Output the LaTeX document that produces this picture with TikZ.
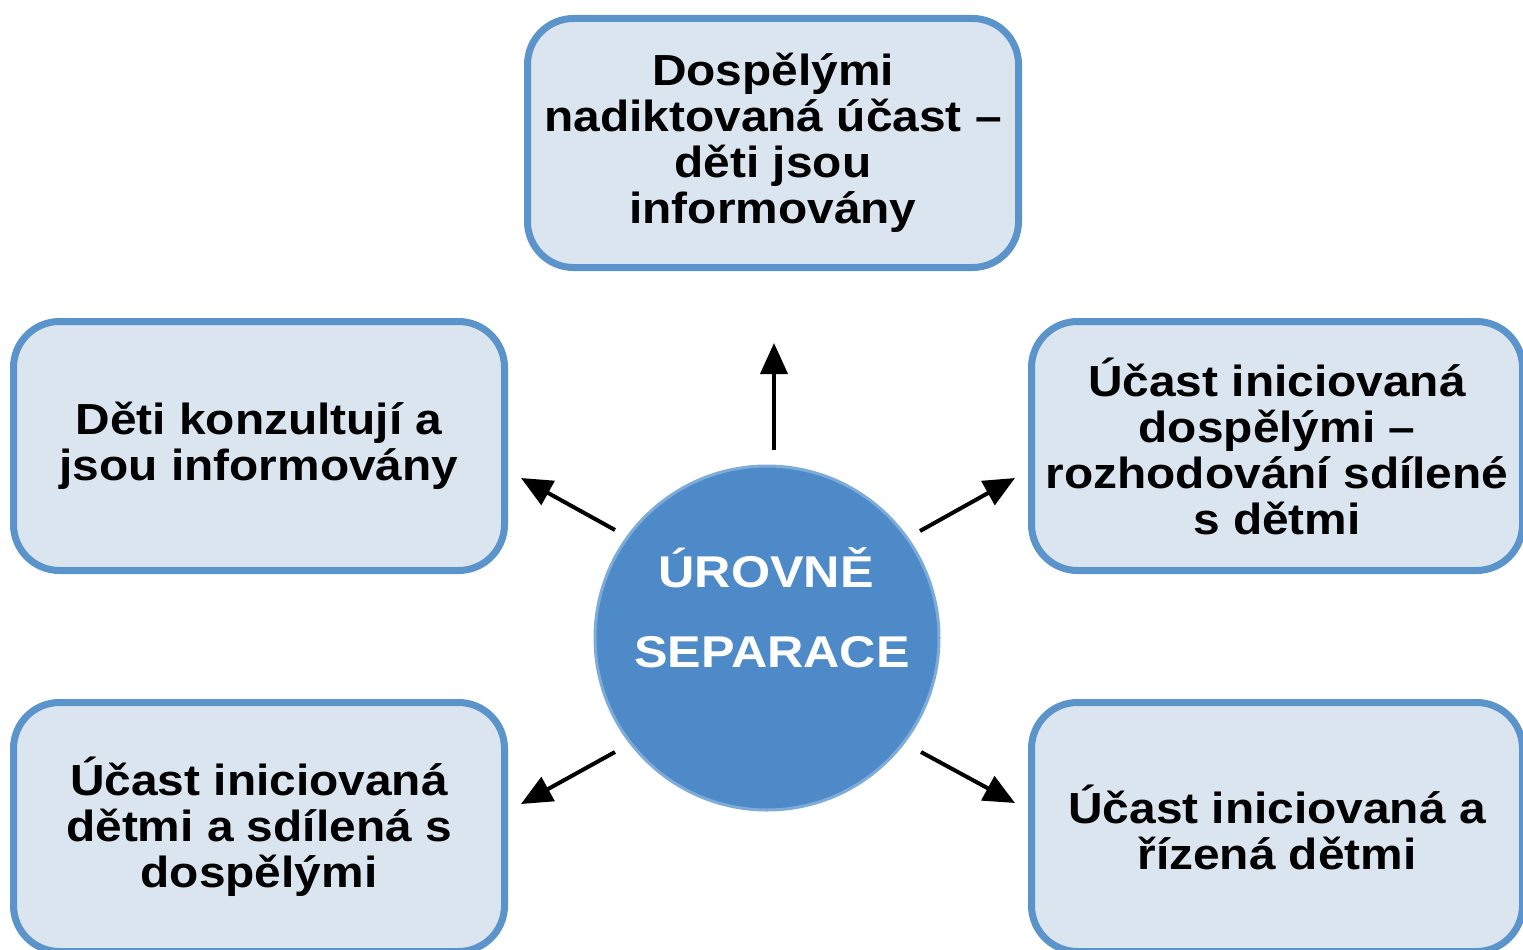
\documentclass[tikz,border=0pt]{standalone}
\usepackage{fontspec}
\setmainfont{Liberation Sans}
\newfontfamily\boxfont[FakeStretch=1.1]{Liberation Sans}
\newfontfamily\circfont[FakeStretch=1.13]{Liberation Sans}
\usetikzlibrary{arrows.meta}
\definecolor{boxline}{RGB}{91,148,202}
\definecolor{boxfill}{RGB}{219,229,240}
\definecolor{circfill}{RGB}{78,138,200}
\definecolor{circrim}{RGB}{125,172,218}
\begin{document}
\begin{tikzpicture}[x=1pt,y=-1pt,
  levelbox/.style={draw=boxline, fill=boxfill, line width=7pt, rounded corners=46pt,
    minimum width=491pt, minimum height=249pt, align=center, inner sep=0pt,
    font=\boxfont\bfseries\fontsize{43.5}{46}\selectfont},
  circtext/.style={text=white, font=\circfont\bfseries\fontsize{44.5}{48}\selectfont,
    anchor=base, inner sep=0pt},
  outarrow/.style={line width=4pt, -{Triangle[length=31pt,width=27pt]}}]
\fill[white] (0,0) rectangle (1523,950);
\useasboundingbox (0,0) rectangle (1523,950);

% boxes
\node[levelbox] (top) at (773,143) {Dospělými\\nadiktovaná účast –\\děti jsou\\informovány};
\node[levelbox] (ml) at (259,446) {Děti konzultují a\\jsou informovány};
\node[levelbox] (mr) at (1277,446) {Účast iniciovaná\\dospělými –\\rozhodování sdílené\\s dětmi};
\node[levelbox] (bl) at (259,827) {Účast iniciovaná\\dětmi a sdílená s\\dospělými};
\node[levelbox] (br) at (1277,827) {Účast iniciovaná a\\řízená dětmi};

% central circle
\node[circle, fill=circfill, draw=circrim, line width=3pt, minimum size=344pt, inner sep=0pt] (c) at (767,638) {};
\node[circtext] (l1) at (766,587) {ÚROVNĚ};
\node[circtext] (l2) at (772,667) {SEPARACE};

% arrows
\coordinate (t1) at (774,450); \coordinate (h1) at (774,343);
\coordinate (t2) at (615,530); \coordinate (h2) at (521,478);
\coordinate (t3) at (920,531); \coordinate (h3) at (1015,478);
\coordinate (t4) at (615,752); \coordinate (h4) at (521,804);
\coordinate (t5) at (921,752); \coordinate (h5) at (1015,803);
\draw[outarrow] (t1) -- (h1);
\draw[outarrow] (t2) -- (h2);
\draw[outarrow] (t3) -- (h3);
\draw[outarrow] (t4) -- (h4);
\draw[outarrow] (t5) -- (h5);
\end{tikzpicture}
\end{document}
